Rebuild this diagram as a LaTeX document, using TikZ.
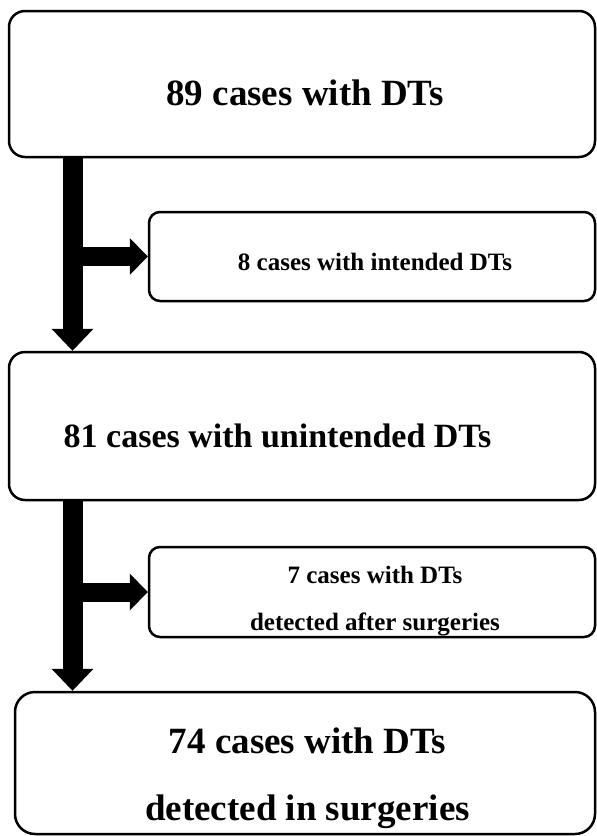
\documentclass[tikz,border=0pt]{standalone}
\usepackage{fontspec}
\setmainfont{Liberation Serif}
\usetikzlibrary{positioning,arrows.meta}

\tikzset{
  bigbox/.style={draw, line width=2.5pt, rounded corners=16pt, inner sep=0pt},
  smallbox/.style={draw, line width=2.5pt, rounded corners=11pt, inner sep=0pt},
  bigtext/.style={anchor=base, inner sep=0pt, align=center, font=\fontsize{37}{67}\selectfont\bfseries},
  midtext/.style={anchor=base, inner sep=0pt, align=center, font=\fontsize{34}{60}\selectfont\bfseries},
  smalltext/.style={anchor=base, inner sep=0pt, align=center, font=\fontsize{25}{47}\selectfont\bfseries},
  flow/.style={line width=20pt, -{Triangle[width=42pt,length=22pt,line width=0pt]}},
  branch/.style={line width=19pt, -{Triangle[width=37pt,length=18pt,line width=0pt]}}
}

\begin{document}
\begin{tikzpicture}[x=1pt, y=-1pt]
  \useasboundingbox (0,0) rectangle (597,836);
  % boxes
  \node[bigbox, minimum width=586pt, minimum height=146pt] (all) at (302,84) {};
  \node[smallbox, minimum width=446pt, minimum height=89pt] (intended) at (372,256.5) {};
  \node[bigbox, minimum width=586pt, minimum height=148pt] (unintended) at (302,426) {};
  \node[smallbox, minimum width=446pt, minimum height=90pt] (after) at (372,592) {};
  \node[bigbox, rounded corners=20pt, minimum width=580pt, minimum height=142pt] (during) at (305,763) {};
  % texts (base = last line)
  \node[bigtext] (t1) at (305,105) {89 cases with DTs};
  \node[smalltext] (t2) at (375,270) {8 cases with intended DTs};
  \node[midtext] (t3) at (277.5,447) {81 cases with unintended DTs};
  \node[smalltext] (t4) at (375,630) {7 cases with DTs\\detected after surgeries};
  \node[bigtext] (t5) at (307.5,820) {74 cases with DTs\\detected in surgeries};
  % arrows
  \coordinate (s1) at (72.5,158);
  \coordinate (s2) at (72.5,501);
  \draw[flow] (s1) -- (s1 |- unintended.north);
  \draw[branch] (s1 |- intended.west) -- (intended.west);
  \draw[flow] (s2) -- (s2 |- during.north);
  \draw[branch] (s2 |- after.west) -- (after.west);
\end{tikzpicture}
\end{document}
